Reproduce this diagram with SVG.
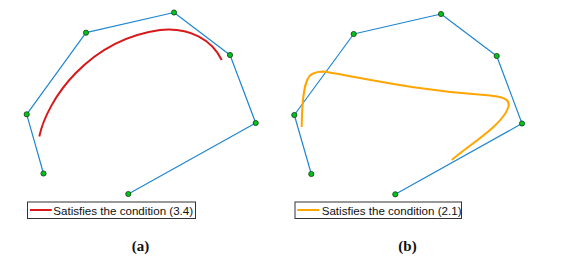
<svg xmlns="http://www.w3.org/2000/svg" width="576" height="258" viewBox="0 0 576 258">
<style>
.poly{fill:none;stroke:#1f86d0;stroke-width:1.2;stroke-linejoin:round}
.pt{fill:#00c21a;stroke:#1a3a1a;stroke-width:0.8}
.curveA{fill:none;stroke:#d7191c;stroke-width:2;stroke-linecap:butt}
.curveB{fill:none;stroke:#ffa500;stroke-width:2;stroke-linecap:butt}
.box{fill:#fff;stroke:#333;stroke-width:1}
.leg{font-family:"Liberation Sans",Arial,sans-serif;font-size:11.6px;fill:#111}
.cap{font-family:"Liberation Serif","Times New Roman",serif;font-size:15px;font-weight:bold;fill:#111;text-anchor:middle}
</style>
<g id="connectors">
<polyline class="poly" points="43.5,173.5 26.7,114.3 86,32.7 174,12.5 230,55 255.7,123 128.3,194"/>
<polyline class="poly" points="311.3,174 294.3,115 353.7,34 441,14 496.7,56 522,123.5 395.3,194.3"/>
</g>
<g id="curve-a">
<path class="curveA" d="M39.3,136.5 C47,100 88,40 160,30 C190,27 212,40 221.7,60"/>
</g>
<g id="curve-b">
<path class="curveB" d="M301.7,127 C302,100 304,78 312,74 C316,72 320,71.5 323,71.5 C355,76 410,90 490,95.5 C505,97 511,100 508,108 C502,125 472,143 451.7,160"/>
</g>
<g id="points-a">
<circle class="pt" cx="43.5" cy="173.5" r="2.6"/>
<circle class="pt" cx="26.7" cy="114.3" r="2.6"/>
<circle class="pt" cx="86" cy="32.7" r="2.6"/>
<circle class="pt" cx="174" cy="12.5" r="2.6"/>
<circle class="pt" cx="230" cy="55" r="2.6"/>
<circle class="pt" cx="255.7" cy="123" r="2.6"/>
<circle class="pt" cx="128.3" cy="194" r="2.6"/>
</g>
<g id="points-b">
<circle class="pt" cx="311.3" cy="174" r="2.6"/>
<circle class="pt" cx="294.3" cy="115" r="2.6"/>
<circle class="pt" cx="353.7" cy="34" r="2.6"/>
<circle class="pt" cx="441" cy="14" r="2.6"/>
<circle class="pt" cx="496.7" cy="56" r="2.6"/>
<circle class="pt" cx="522" cy="123.5" r="2.6"/>
<circle class="pt" cx="395.3" cy="194.3" r="2.6"/>
</g>
<g id="legend-a">
<rect class="box" x="27.5" y="202" width="168" height="16.5"/>
<line x1="30" y1="210" x2="51.7" y2="210" stroke="#d7191c" stroke-width="2"/>
<text class="leg" x="53.3" y="214.5">Satisfies the condition (3.4)</text>
</g>
<g id="legend-b">
<rect class="box" x="295" y="202" width="166.5" height="16.5"/>
<line x1="297.3" y1="210" x2="319.3" y2="210" stroke="#ffa500" stroke-width="2"/>
<text class="leg" x="321.7" y="214.5">Satisfies the condition (2.1)</text>
</g>
<g id="caption-a"><text class="cap" x="140.5" y="251">(a)</text></g>
<g id="caption-b"><text class="cap" x="407.5" y="251">(b)</text></g>
</svg>
